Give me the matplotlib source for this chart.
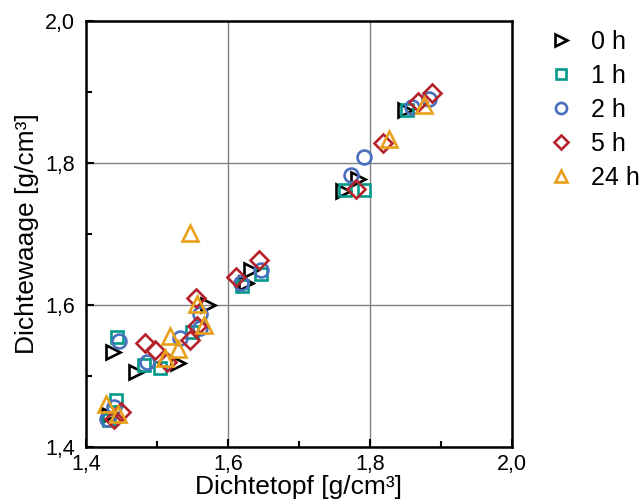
import matplotlib
matplotlib.use("Agg")
import matplotlib.pyplot as plt
from matplotlib.ticker import MultipleLocator, FuncFormatter

plt.rcParams['font.family'] = ['Liberation Sans', 'DejaVu Sans']

# Dichtetopf (x) vs. Dichtewaage (y), g/cm³, per storage time
x_0h = [1.433, 1.438, 1.471, 1.529, 1.572, 1.626, 1.633, 1.762, 1.783, 1.849]
y_0h = [1.445, 1.534, 1.505, 1.519, 1.600, 1.631, 1.649, 1.760, 1.778, 1.875]

x_1h = [1.432, 1.443, 1.444, 1.482, 1.504, 1.549, 1.620, 1.646, 1.765, 1.791, 1.852]
y_1h = [1.438, 1.466, 1.555, 1.516, 1.511, 1.562, 1.627, 1.643, 1.762, 1.762, 1.875]

x_2h = [1.429, 1.440, 1.447, 1.486, 1.532, 1.561, 1.561, 1.619, 1.646, 1.773, 1.791, 1.859, 1.883]
y_2h = [1.440, 1.456, 1.550, 1.520, 1.553, 1.568, 1.588, 1.631, 1.649, 1.783, 1.809, 1.879, 1.890]

x_5h = [1.440, 1.450, 1.483, 1.497, 1.514, 1.546, 1.556, 1.555, 1.612, 1.644, 1.780, 1.818, 1.867, 1.887]
y_5h = [1.440, 1.450, 1.546, 1.536, 1.520, 1.551, 1.570, 1.610, 1.640, 1.663, 1.764, 1.828, 1.886, 1.898]

x_24h = [1.428, 1.445, 1.511, 1.518, 1.530, 1.557, 1.566, 1.546, 1.827, 1.876]
y_24h = [1.461, 1.447, 1.525, 1.557, 1.538, 1.601, 1.572, 1.701, 1.834, 1.882]

labels = ['0 h', '1 h', '2 h', '5 h', '24 h']
series = [(x_0h, y_0h), (x_1h, y_1h), (x_2h, y_2h), (x_5h, y_5h), (x_24h, y_24h)]
markers = ['>', 's', 'o', 'D', '^']
colors = ['#000000', '#00998a', '#4a6fbf', '#b5232b', '#e8a01b']
sizes = [10, 8.5, 10, 9, 11]

fig = plt.figure(figsize=(6.43, 5.03), dpi=100)
ax = fig.add_axes([0.1337, 0.1113, 0.6625, 0.847])

for (xs, ys), m, c, s, lab in zip(series, markers, colors, sizes, labels):
    ax.plot(xs, ys, linestyle='none', marker=m, markersize=s,
            markerfacecolor='none', markeredgecolor=c, markeredgewidth=1.9,
            label=lab, zorder=3)

ax.set_xlim(1.4, 2.0)
ax.set_ylim(1.4, 2.0)
ax.xaxis.set_major_locator(MultipleLocator(0.2))
ax.yaxis.set_major_locator(MultipleLocator(0.2))
ax.xaxis.set_minor_locator(MultipleLocator(0.1))
ax.yaxis.set_minor_locator(MultipleLocator(0.1))
fmt = FuncFormatter(lambda v, p: f"{v:.1f}".replace('.', ','))
ax.xaxis.set_major_formatter(fmt)
ax.yaxis.set_major_formatter(fmt)
ax.tick_params(which='both', direction='in', labelsize=15.5, width=1.5)
ax.tick_params(which='major', length=6)
ax.tick_params(which='minor', length=4)
ax.tick_params(axis='x', which='major', pad=5)
ax.tick_params(axis='y', which='major', pad=8)
ax.grid(True, which='major', color='#808080', linewidth=1, zorder=0)
for sp in ax.spines.values():
    sp.set_linewidth(1.8)

ax.set_xlabel('Dichtetopf [g/cm³]', fontsize=19, labelpad=0)
ax.set_ylabel('Dichtewaage [g/cm³]', fontsize=19, labelpad=4)

ax.legend(loc='upper left', bbox_to_anchor=(1.04, 1.02), frameon=False,
          fontsize=18, handletextpad=0.6, labelspacing=0.4, markerscale=0.8,
          handlelength=1.2, borderaxespad=0.3)

fig.savefig('out.png', dpi=100)
